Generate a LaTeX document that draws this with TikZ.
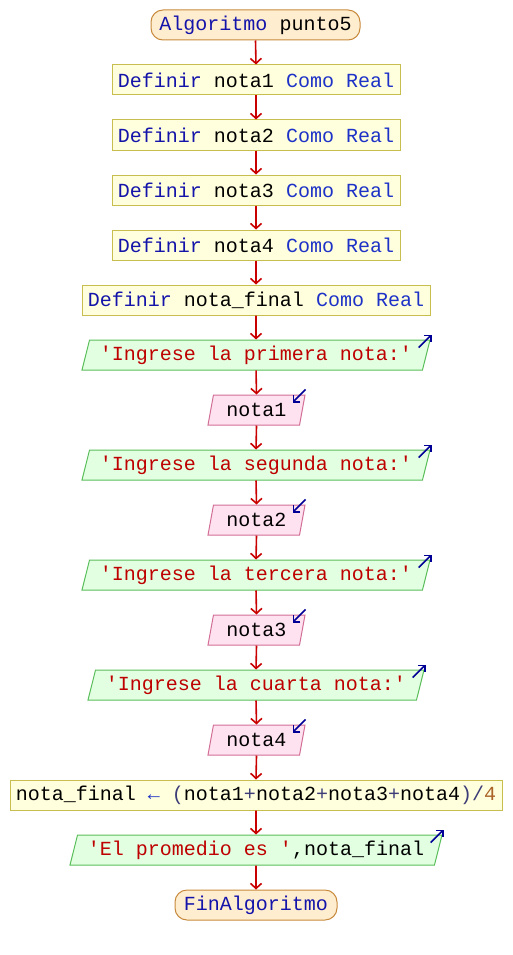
\documentclass[tikz,border=0pt]{standalone}
\usepackage{fontspec}
\setmonofont{Liberation Mono}
\usetikzlibrary{shapes.geometric,arrows.meta}

\definecolor{termfill}{RGB}{255,237,208}
\definecolor{termdraw}{RGB}{200,138,60}
\definecolor{deffill}{RGB}{255,255,221}
\definecolor{defdraw}{RGB}{200,190,80}
\definecolor{outfill}{RGB}{226,255,226}
\definecolor{outdraw}{RGB}{90,190,90}
\definecolor{infill}{RGB}{255,226,240}
\definecolor{indraw}{RGB}{210,110,150}
\definecolor{flow}{RGB}{200,0,0}
\definecolor{iconblue}{RGB}{0,0,150}
\definecolor{kw}{RGB}{20,20,170}
\definecolor{kwlight}{RGB}{30,50,200}
\definecolor{str}{RGB}{190,0,0}
\definecolor{op}{RGB}{60,60,120}
\definecolor{num}{RGB}{170,100,40}

\newcommand{\kwd}[1]{\textcolor{kw}{#1}}
\newcommand{\kwl}[1]{\textcolor{kwlight}{#1}}
\newcommand{\strg}[1]{\textcolor{str}{#1}}
\newcommand{\opr}[1]{\textcolor{op}{#1}}

\tikzset{
  base/.style={font=\ttfamily\fontsize{20pt}{22pt}\selectfont, inner sep=0pt,
    minimum height=30pt, line width=1pt, text=black},
  term/.style={base, rounded corners=12pt, fill=termfill, draw=termdraw},
  defbox/.style={base, rectangle, fill=deffill, draw=defdraw},
  io/.style={base, trapezium, trapezium left angle=68, trapezium right angle=112,
    trapezium stretches body, minimum height=30pt},
  outbox/.style={io, fill=outfill, draw=outdraw},
  inbox/.style={io, fill=infill, draw=indraw},
  flowarrow/.style={draw=flow, line width=1.6pt,
    -{Straight Barb[length=5pt,width=11pt,line width=1.6pt]}},
  iconarrow/.style={draw=iconblue, line width=1.6pt,
    -{Straight Barb[length=5pt,width=10pt,line width=1.6pt]}},
}

\begin{document}
\begin{tikzpicture}[x=1pt,y=1pt]
  \path[use as bounding box] (0,0) rectangle (512,-955);

  \node[term, minimum width=209pt] (start) at (255.5,-25) {\kwd{Algoritmo} punto5};
  \node[defbox, minimum width=288pt] (d1) at (256,-80) {\kwd{Definir} nota1 \kwl{Como Real}};
  \node[defbox, minimum width=288pt] (d2) at (256,-135) {\kwd{Definir} nota2 \kwl{Como Real}};
  \node[defbox, minimum width=288pt] (d3) at (256,-190) {\kwd{Definir} nota3 \kwl{Como Real}};
  \node[defbox, minimum width=288pt] (d4) at (256,-245) {\kwd{Definir} nota4 \kwl{Como Real}};
  \node[defbox, minimum width=348pt] (d5) at (256,-300) {\kwd{Definir} nota\_final \kwl{Como Real}};

  \node[outbox, minimum width=348pt] (o1) at (256,-355) {\strg{'Ingrese la primera nota:'}};
  \node[inbox, minimum width=97pt] (i1) at (256.5,-410) {nota1};
  \node[outbox, minimum width=348pt] (o2) at (256,-465) {\strg{'Ingrese la segunda nota:'}};
  \node[inbox, minimum width=97pt] (i2) at (256.5,-520) {nota2};
  \node[outbox, minimum width=348pt] (o3) at (256,-575) {\strg{'Ingrese la tercera nota:'}};
  \node[inbox, minimum width=97pt] (i3) at (256.5,-630) {nota3};
  \node[outbox, minimum width=336pt] (o4) at (256,-685) {\strg{'Ingrese la cuarta nota:'}};
  \node[inbox, minimum width=97pt] (i4) at (256.5,-740) {nota4};

  \node[defbox, minimum width=492pt] (asg) at (256,-795)
    {nota\_final \textcolor{kwlight}{←} \opr{(}nota1\opr{+}nota2\opr{+}nota3\opr{+}nota4\opr{)/}\textcolor{num}{4}};
  \node[outbox, minimum width=372pt] (o5) at (256,-850) {\strg{'El promedio es '},nota\_final};
  \node[term, minimum width=162pt] (fin) at (256,-905) {\kwd{FinAlgoritmo}};

  % flow connectors
  \foreach \a/\b in {start/d1, d1/d2, d2/d3, d3/d4, d4/d5, d5/o1, o1/i1, i1/o2,
                     o2/i2, i2/o3, o3/i3, i3/o4, o4/i4, i4/asg, asg/o5, o5/fin}
    \draw[flowarrow] (\a.south) -- (\b.north);

  % output markers (arrow leaving the top right corner)
  \foreach \n in {o1,o2,o3,o4,o5}
    \draw[iconarrow] ([shift={(-12,-8)}]\n.top right corner) -- ([shift={(1,5)}]\n.top right corner);

  % input markers (arrow entering the top right corner)
  \foreach \n in {i1,i2,i3,i4}
    \draw[iconarrow] ([shift={(0,5)}]\n.top right corner) -- ([shift={(-13,-8)}]\n.top right corner);
\end{tikzpicture}
\end{document}
